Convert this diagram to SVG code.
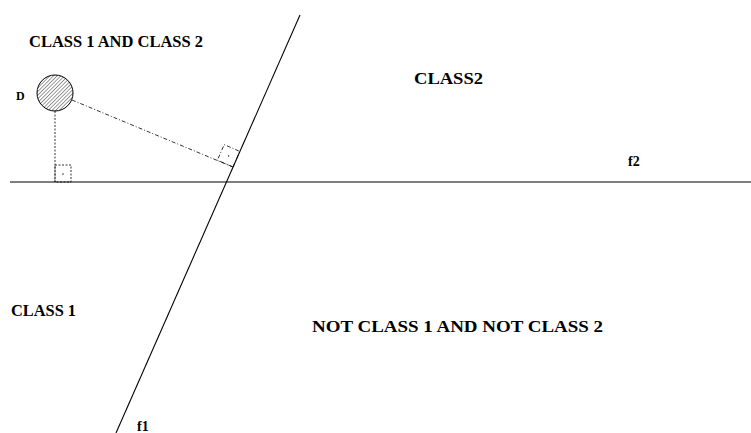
<svg xmlns="http://www.w3.org/2000/svg" width="751" height="433" viewBox="0 0 751 433">
<style>
.t{font-family:"Liberation Serif","Times New Roman",serif;font-weight:bold;fill:#000}
.dd{fill:none;stroke:#000;stroke-width:0.8;stroke-dasharray:4 2 1 2}
.dot{fill:none;stroke:#000;stroke-width:0.8;stroke-dasharray:2 1.5}
</style>
<defs>
<pattern id="hatch" patternUnits="userSpaceOnUse" width="2.6" height="2.6" patternTransform="rotate(45)">
<line x1="0" y1="0" x2="0" y2="2.6" stroke="#000" stroke-width="0.8"/>
</pattern>
</defs>
<rect width="751" height="433" fill="#fff"/>
<g id="axes">
<line id="f2-line" x1="10" y1="182" x2="751" y2="182" stroke="#555" stroke-width="1.5"/>
<line id="f1-line" x1="300" y1="15" x2="116" y2="433" stroke="#000" stroke-width="1.1"/>
</g>
<g id="connectors">
<line class="dot" x1="55" y1="111" x2="55" y2="182"/>
<line class="dd" x1="72" y1="100" x2="233" y2="167"/>
</g>
<g id="node-D">
<circle cx="55" cy="93" r="18" fill="url(#hatch)" stroke="#000" stroke-width="1"/>
<text class="t" x="16" y="100" font-size="12">D</text>
</g>
<g id="right-angle-1">
<rect class="dot" x="55" y="165" width="16" height="17"/>
<circle cx="63" cy="174" r="0.7" fill="#000"/>
</g>
<g id="right-angle-2">
<polygon class="dd" points="233,167 239.8,151.4 224.2,144.6 217.4,160.2"/>
<circle cx="228.6" cy="155.9" r="0.7" fill="#000"/>
</g>
<g id="labels">
<text class="t" x="29" y="47" font-size="16" textLength="174" lengthAdjust="spacingAndGlyphs">CLASS 1 AND CLASS 2</text>
<text class="t" x="414" y="84" font-size="17" textLength="69" lengthAdjust="spacingAndGlyphs">CLASS2</text>
<text class="t" x="628" y="166" font-size="14">f2</text>
<text class="t" x="11" y="316" font-size="16" textLength="65" lengthAdjust="spacingAndGlyphs">CLASS 1</text>
<text class="t" x="312" y="332" font-size="17" textLength="291" lengthAdjust="spacingAndGlyphs">NOT CLASS 1 AND NOT CLASS 2</text>
<text class="t" x="137" y="431" font-size="14">f1</text>
</g>
</svg>
